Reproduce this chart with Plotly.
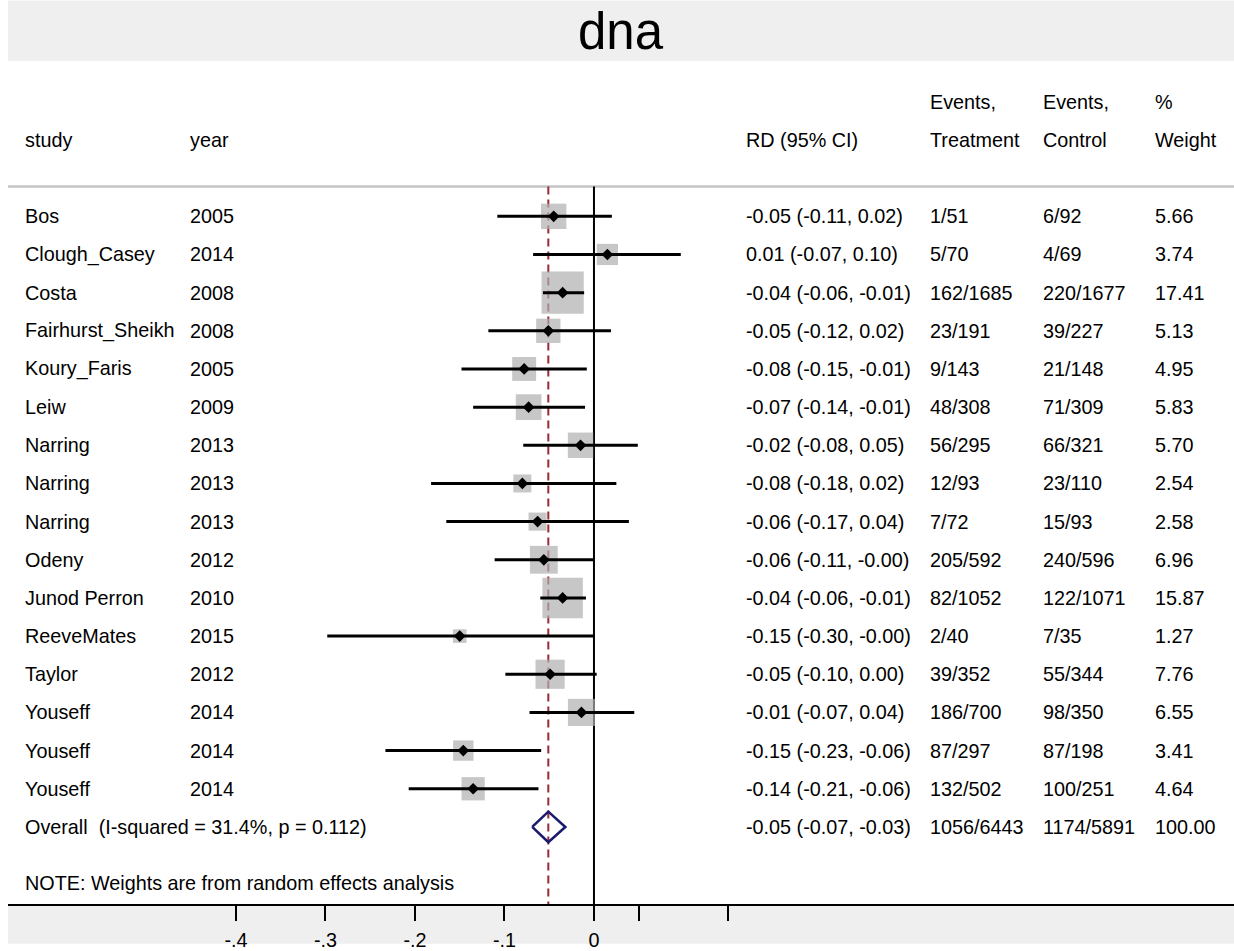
import plotly.graph_objects as go
import numpy as np

# ---------------- data ----------------
studies = ["Bos", "Clough_Casey", "Costa", "Fairhurst_Sheikh", "Koury_Faris", "Leiw",
           "Narring", "Narring", "Narring", "Odeny", "Junod Perron", "ReeveMates",
           "Taylor", "Youseff", "Youseff", "Youseff"]
years = ["2005", "2014", "2008", "2008", "2005", "2009", "2013", "2013", "2013",
         "2012", "2010", "2015", "2012", "2014", "2014", "2014"]
rd = [-0.045, 0.015, -0.035, -0.051, -0.078, -0.073, -0.015, -0.080, -0.063,
      -0.056, -0.035, -0.150, -0.049, -0.014, -0.146, -0.135]
ci_lo = [-0.108, -0.068, -0.057, -0.118, -0.148, -0.135, -0.079, -0.182, -0.165,
         -0.111, -0.060, -0.298, -0.099, -0.072, -0.233, -0.207]
ci_hi = [0.020, 0.097, -0.011, 0.019, -0.008, -0.010, 0.049, 0.025, 0.039,
         0.000, -0.009, 0.000, 0.003, 0.045, -0.059, -0.062]
rd_text = ["-0.05 (-0.11, 0.02)", "0.01 (-0.07, 0.10)", "-0.04 (-0.06, -0.01)",
           "-0.05 (-0.12, 0.02)", "-0.08 (-0.15, -0.01)", "-0.07 (-0.14, -0.01)",
           "-0.02 (-0.08, 0.05)", "-0.08 (-0.18, 0.02)", "-0.06 (-0.17, 0.04)",
           "-0.06 (-0.11, -0.00)", "-0.04 (-0.06, -0.01)", "-0.15 (-0.30, -0.00)",
           "-0.05 (-0.10, 0.00)", "-0.01 (-0.07, 0.04)", "-0.15 (-0.23, -0.06)",
           "-0.14 (-0.21, -0.06)"]
events_treatment = ["1/51", "5/70", "162/1685", "23/191", "9/143", "48/308", "56/295",
                    "12/93", "7/72", "205/592", "82/1052", "2/40", "39/352", "186/700",
                    "87/297", "132/502"]
events_control = ["6/92", "4/69", "220/1677", "39/227", "21/148", "71/309", "66/321",
                  "23/110", "15/93", "240/596", "122/1071", "7/35", "55/344", "98/350",
                  "87/198", "100/251"]
weights = [5.66, 3.74, 17.41, 5.13, 4.95, 5.83, 5.70, 2.54, 2.58, 6.96, 15.87, 1.27,
           7.76, 6.55, 3.41, 4.64]
weight_text = ["5.66", "3.74", "17.41", "5.13", "4.95", "5.83", "5.70", "2.54", "2.58",
               "6.96", "15.87", "1.27", "7.76", "6.55", "3.41", "4.64"]

overall_label = "Overall\u00a0\u00a0(I-squared = 31.4%, p = 0.112)"
overall_rd = -0.051
overall_lo = -0.069
overall_hi = -0.032
overall_rd_text = "-0.05 (-0.07, -0.03)"
overall_treat = "1056/6443"
overall_ctrl = "1174/5891"
overall_weight = "100.00"
note_text = "NOTE: Weights are from random effects analysis"

tick_vals = [-0.4, -0.3, -0.2, -0.1, 0, 0.05, 0.15]
tick_text = ["-.4", "-.3", "-.2", "-.1", "0", "", ""]

# ---------------- layout geometry ----------------
W, H = 1234, 951
ML, MR, MT, MB = 8, 0, 61, 40
PW = W - ML - MR
PH = H - MT - MB
X_RANGE = [-0.6547, 0.7151]
Y_RANGE = [18.02, -4.07]
SEP_ROW = -0.78

FONT = "Liberation Sans, Arial, sans-serif"
FS = 19.8


def px2paper(px):
    return (px - ML) / PW


rows = list(range(len(studies)))
overall_row = len(studies)

fig = go.Figure()

# boxes (area proportional to weight)
box_sizes = [3.0 + 9.4 * np.sqrt(w) for w in weights]
fig.add_trace(go.Scatter(x=rd, y=rows, mode="markers",
                         marker=dict(symbol="square", size=box_sizes, color="#afafaf",
                                     line=dict(width=0)),
                         hoverinfo="skip", showlegend=False))

# CI lines
cx, cy = [], []
for lo, hi, r in zip(ci_lo, ci_hi, rows):
    cx += [lo, hi, None]
    cy += [r, r, None]
fig.add_trace(go.Scatter(x=cx, y=cy, mode="lines", line=dict(color="black", width=3),
                         hoverinfo="skip", showlegend=False))

# point estimates
fig.add_trace(go.Scatter(x=rd, y=rows, mode="markers",
                         marker=dict(symbol="diamond", size=9, color="black"),
                         hoverinfo="skip", showlegend=False))

# overall diamond
dh = 0.40
fig.add_trace(go.Scatter(
    x=[overall_lo, overall_rd, overall_hi, overall_rd, overall_lo],
    y=[overall_row, overall_row - dh, overall_row, overall_row + dh, overall_row],
    mode="lines", line=dict(color="#1b1b6f", width=2.6),
    hoverinfo="skip", showlegend=False))

shapes = [
    # top gray band
    dict(type="rect", xref="paper", yref="paper", x0=0, x1=1, y0=1, y1=1 + MT / PH,
         fillcolor="#efefef", line=dict(width=0), layer="below"),
    # bottom gray band
    dict(type="rect", xref="paper", yref="paper", x0=0, x1=1, y0=-MB / PH, y1=0,
         fillcolor="#efefef", line=dict(width=0), layer="below"),
    # separator under header
    dict(type="line", xref="paper", yref="y", x0=0, x1=1, y0=SEP_ROW, y1=SEP_ROW,
         line=dict(color="#c4c4c4", width=2.5), layer="below"),
    # null line
    dict(type="line", xref="x", yref="y", x0=0, x1=0, y0=SEP_ROW, y1=Y_RANGE[0],
         line=dict(color="black", width=2), layer="below"),
    # overall effect dashed line
    dict(type="line", xref="x", yref="y", x0=overall_rd, x1=overall_rd, y0=SEP_ROW,
         y1=Y_RANGE[0], line=dict(color="#9a2a36", width=2, dash="8px,5px"),
         layer="below"),
]

annotations = []


def txt(text, px, row, size=FS):
    annotations.append(dict(text=text, xref="paper", yref="y", x=px2paper(px), y=row,
                            xanchor="left", yanchor="middle", showarrow=False,
                            font=dict(family=FONT, size=size, color="black")))


COL_STUDY, COL_YEAR, COL_RD, COL_T, COL_C, COL_W = 23, 188, 744, 928, 1041, 1153

# headers
txt("study", COL_STUDY, -2)
txt("year", COL_YEAR, -2)
txt("RD (95% CI)", COL_RD, -2)
txt("Events,", COL_T, -3)
txt("Treatment", COL_T, -2)
txt("Events,", COL_C, -3)
txt("Control", COL_C, -2)
txt("%", COL_W, -3)
txt("Weight", COL_W, -2)

for i, r in enumerate(rows):
    txt(studies[i], COL_STUDY, r)
    txt(years[i], COL_YEAR, r)
    txt(rd_text[i], COL_RD, r)
    txt(events_treatment[i], COL_T, r)
    txt(events_control[i], COL_C, r)
    txt(weight_text[i], COL_W, r)

txt(overall_label, COL_STUDY, overall_row)
txt(overall_rd_text, COL_RD, overall_row)
txt(overall_treat, COL_T, overall_row)
txt(overall_ctrl, COL_C, overall_row)
txt(overall_weight, COL_W, overall_row)
txt(note_text, COL_STUDY, 17.48)

# title
annotations.append(dict(text="dna", xref="paper", yref="paper", x=0.5,
                        y=1 + (MT - 31) / PH, xanchor="center", yanchor="middle",
                        showarrow=False,
                        font=dict(family=FONT, size=51, color="black")))

fig.update_layout(
    width=W, height=H,
    margin=dict(l=ML, r=MR, t=MT, b=MB, pad=0),
    paper_bgcolor="white", plot_bgcolor="white",
    shapes=shapes, annotations=annotations,
    showlegend=False,
    xaxis=dict(range=X_RANGE, showgrid=False, zeroline=False, showline=True,
               linecolor="black", linewidth=2, ticks="outside", ticklen=15,
               tickwidth=2, tickcolor="black", tickvals=tick_vals, ticktext=tick_text,
               tickfont=dict(family=FONT, size=FS, color="black"),
               ticklabelstandoff=2, fixedrange=True),
    yaxis=dict(range=Y_RANGE, showgrid=False, zeroline=False, showline=False,
               showticklabels=False, ticks="", fixedrange=True),
    hovermode=False,
)

fig.write_html("out.html", config={"displayModeBar": False},
               post_script="document.body.style.margin='0';"
                           "document.body.style.overflow='hidden';")
